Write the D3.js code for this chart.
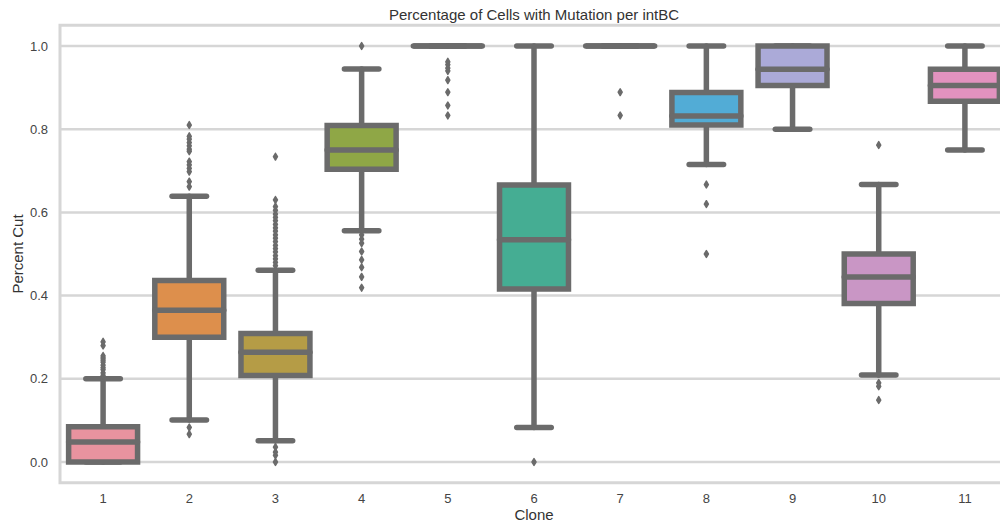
<!DOCTYPE html>
<html>
<head>
<meta charset="utf-8">
<script src="https://cdn.jsdelivr.net/npm/d3@7"></script>
<style>
  body { margin: 0; background: #fff; }
  text { font-family: "Liberation Sans", Arial, Helvetica, sans-serif; }
</style>
</head>
<body>
<svg id="chart" width="1000" height="524"></svg>
<script>
// ---- Data ----
const categories = ["1","2","3","4","5","6","7","8","9","10","11"];
const q1        = [0.000, 0.300, 0.208, 0.704, 1.000, 0.416, 1.000, 0.810, 0.905, 0.381, 0.867];
const medians   = [0.048, 0.365, 0.264, 0.750, 1.000, 0.534, 1.000, 0.832, 0.944, 0.445, 0.905];
const q3        = [0.085, 0.436, 0.309, 0.809, 1.000, 0.666, 1.000, 0.888, 1.000, 0.500, 0.944];
const whiskLow  = [0.000, 0.101, 0.051, 0.556, 1.000, 0.083, 1.000, 0.715, 0.800, 0.209, 0.750];
const whiskHigh = [0.200, 0.639, 0.461, 0.945, 1.000, 1.000, 1.000, 1.000, 1.000, 0.667, 1.000];
const outliers = [
  [0.289, 0.280, 0.255, 0.250, 0.245, 0.240, 0.233, 0.227, 0.222, 0.214, 0.208],
  [0.810, 0.783, 0.776, 0.768, 0.760, 0.752, 0.747, 0.722, 0.714, 0.706, 0.698, 0.674, 0.662, 0.083, 0.067],
  [0.734, 0.630, 0.614, 0.605, 0.596, 0.588, 0.580, 0.571, 0.563, 0.555, 0.546, 0.538, 0.530, 0.521, 0.513, 0.505, 0.496, 0.488, 0.480, 0.472, 0.036, 0.024, 0.016, 0.000],
  [1.000, 0.546, 0.536, 0.526, 0.506, 0.486, 0.468, 0.445, 0.419],
  [0.962, 0.955, 0.947, 0.940, 0.918, 0.889, 0.857, 0.833],
  [0.000],
  [0.889, 0.833],
  [0.667, 0.620, 0.500],
  [],
  [0.762, 0.190, 0.182, 0.149],
  []
];
const colors = ["#e8939f","#dd8f4c","#b59c46","#8fa746","#55ad6c","#45ad93","#48a8b8","#52acd6","#abaad8","#c996c5","#e292bf"];
const yTicks = [0.0, 0.2, 0.4, 0.6, 0.8, 1.0];

// ---- Layout ----
const svg = d3.select("#chart");
const plotLeft = 60, plotRight = 1008, plotTop = 25.2, plotBottom = 482.8;
const lineColor = "#6b6b6b";
const gridColor = "#d6d6d6";

const x = d3.scaleBand().domain(categories).range([plotLeft, plotRight]).paddingInner(0).paddingOuter(0);
const y = d3.scaleLinear().domain([-0.05, 1.05]).range([plotBottom, plotTop]);

// gridlines
svg.append("g").selectAll("line").data(yTicks).join("line")
  .attr("x1", plotLeft).attr("x2", plotRight)
  .attr("y1", d => y(d)).attr("y2", d => y(d))
  .attr("stroke", gridColor).attr("stroke-width", 2.5);

// spines
svg.append("path")
  .attr("d", `M${plotRight},${y(1.05)} H${plotLeft} V${y(-0.05)} H${plotRight}`)
  .attr("fill", "none").attr("stroke", gridColor).attr("stroke-width", 3);

// axes labels
const yAxis = svg.append("g").attr("transform", `translate(${plotLeft},0)`)
  .call(d3.axisLeft(y).tickValues(yTicks).tickFormat(d3.format(".1f")).tickSize(0).tickPadding(12));
yAxis.select(".domain").remove();
yAxis.selectAll("text").attr("font-size", 13).attr("fill", "#444");

const xAxis = svg.append("g").attr("transform", `translate(0,${y(-0.05)})`)
  .call(d3.axisBottom(x).tickSize(0).tickPadding(11));
xAxis.select(".domain").remove();
xAxis.selectAll("text").attr("font-size", 13).attr("fill", "#444");

// boxes
const bw = x.bandwidth() * 0.8;
const sw = 5.5;
const boxes = svg.append("g");
categories.forEach((c, i) => {
  const cx = x(c) + x.bandwidth() / 2;
  const g = boxes.append("g");
  // whiskers
  g.append("line").attr("x1", cx).attr("x2", cx).attr("y1", y(q3[i])).attr("y2", y(whiskHigh[i]))
    .attr("stroke", lineColor).attr("stroke-width", sw).attr("stroke-linecap", "round");
  g.append("line").attr("x1", cx).attr("x2", cx).attr("y1", y(q1[i])).attr("y2", y(whiskLow[i]))
    .attr("stroke", lineColor).attr("stroke-width", sw).attr("stroke-linecap", "round");
  // caps
  [whiskLow[i], whiskHigh[i]].forEach(v => {
    g.append("line").attr("x1", cx - bw / 4).attr("x2", cx + bw / 4)
      .attr("y1", y(v)).attr("y2", y(v))
      .attr("stroke", lineColor).attr("stroke-width", sw).attr("stroke-linecap", "round");
  });
  // box
  g.append("path")
    .attr("d", `M${cx - bw/2},${y(q3[i])} H${cx + bw/2} V${y(q1[i])} H${cx - bw/2} Z`)
    .attr("fill", colors[i]).attr("stroke", lineColor).attr("stroke-width", sw)
    .attr("stroke-linejoin", "miter");
  // median
  g.append("line").attr("x1", cx - bw / 2).attr("x2", cx + bw / 2)
    .attr("y1", y(medians[i])).attr("y2", y(medians[i]))
    .attr("stroke", lineColor).attr("stroke-width", sw).attr("stroke-linecap", "round");
  // outliers (thin diamonds, softened)
  g.selectAll("path.fl").data(outliers[i]).join("path").attr("class", "fl")
    .attr("d", d => `M${cx},${y(d) - 3.4} L${cx + 2.0},${y(d)} L${cx},${y(d) + 3.4} L${cx - 2.0},${y(d)} Z`)
    .attr("fill", lineColor).attr("stroke", lineColor).attr("stroke-width", 1.5)
    .attr("stroke-linejoin", "round");
});

// title and axis titles
svg.append("text").attr("x", (plotLeft + plotRight) / 2).attr("y", 20).attr("text-anchor", "middle")
  .attr("font-size", 15).attr("fill", "#333").text("Percentage of Cells with Mutation per intBC");
svg.append("text").attr("x", (plotLeft + plotRight) / 2).attr("y", 520).attr("text-anchor", "middle")
  .attr("font-size", 15).attr("fill", "#333").text("Clone");
svg.append("text").attr("transform", `translate(23,${(plotTop + plotBottom) / 2}) rotate(-90)`)
  .attr("text-anchor", "middle").attr("font-size", 15).attr("fill", "#333").text("Percent Cut");
</script>
</body>
</html>
